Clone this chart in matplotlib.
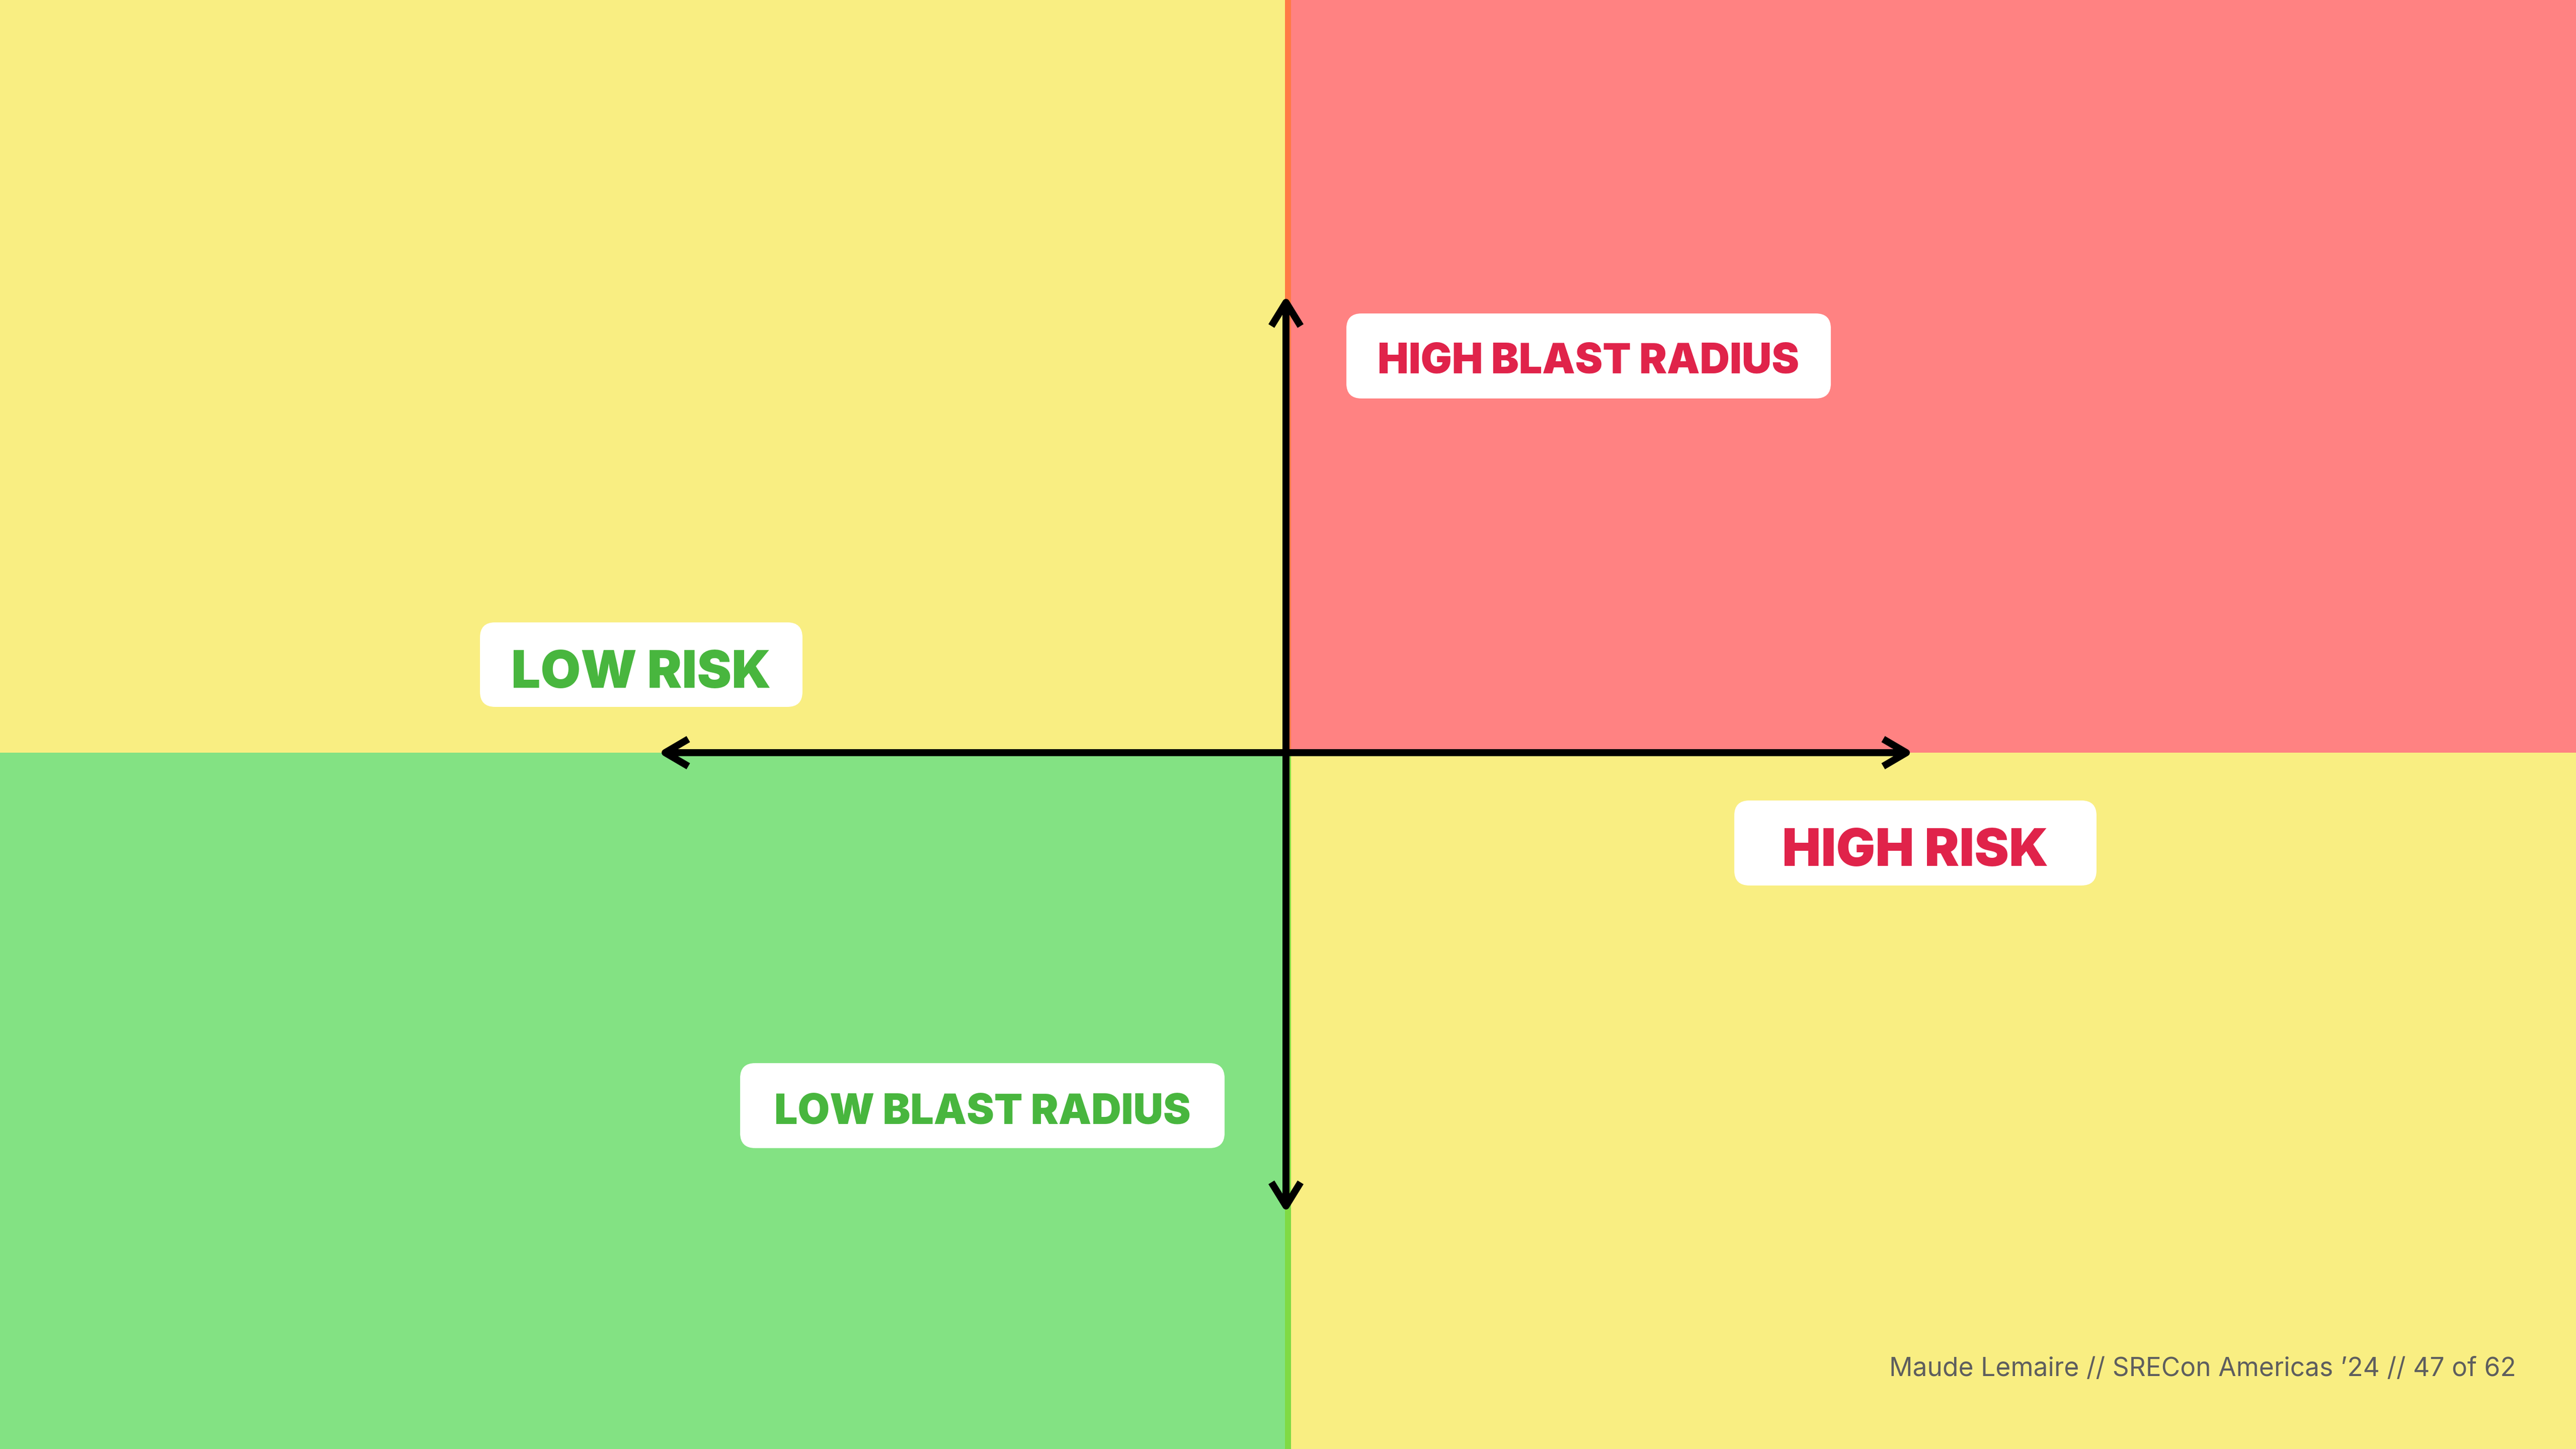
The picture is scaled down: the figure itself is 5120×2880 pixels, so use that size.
import matplotlib
matplotlib.use("Agg")
import matplotlib.pyplot as plt
from matplotlib.patches import Rectangle, FancyBboxPatch

# canvas in pixels
W, H = 5120, 2880
DPI = 320
PX = 72 / DPI  # points per pixel

# quadrant fills: top-left, top-right, bottom-left, bottom-right
quad_names = ["top_left", "top_right", "bottom_left", "bottom_right"]
quad_colors = ["#F9EE82", "#FF8282", "#83E283", "#F9EE82"]

# labels on the chart
label_texts = ["HIGH BLAST RADIUS", "LOW RISK", "HIGH RISK", "LOW BLAST RADIUS"]
label_colors = ["#E0234A", "#48B63E", "#E0234A", "#48B63E"]

footer_text = "Maude Lemaire // SRECon Americas \u201924 // 47 of 62"

# layout (pixels): box x0, x1, y0, y1, text baseline, font size
label_boxes = [
    (2676, 3639, 623, 792, 742, 18.5),
    (954, 1595, 1237, 1405, 1367, 23.2),
    (3447, 4167, 1591, 1760, 1721, 23.2),
    (1471, 2434, 2113, 2282, 2233, 18.5),
]

cx, cy = 2556, 1496   # axis crossing
split_l, split_r = 2554, 2566

fig = plt.figure(figsize=(W / DPI, H / DPI), dpi=DPI)
ax = fig.add_axes([0, 0, 1, 1])
ax.set_xlim(0, W)
ax.set_ylim(H, 0)
ax.axis("off")

# quadrants
quad_rects = {
    "top_left": (0, 0, split_l, cy),
    "top_right": (split_r, 0, W - split_r, cy),
    "bottom_left": (0, cy, split_l, H - cy),
    "bottom_right": (split_r, cy, W - split_r, H - cy),
}
for name, col in zip(quad_names, quad_colors):
    x, y, w, h = quad_rects[name]
    ax.add_patch(Rectangle((x, y), w, h, facecolor=col, edgecolor="none", zorder=1))

# thin divider strip between left/right halves
ax.add_patch(Rectangle((split_l, 0), split_r - split_l, cy, facecolor="#FF7B45",
                       edgecolor="none", zorder=1))
ax.add_patch(Rectangle((split_l, cy), split_r - split_l, H - cy, facecolor="#80DA44",
                       edgecolor="none", zorder=1))

# axes with open arrow heads
lw = 14 * PX
ax.plot([1322, 3789], [cy, cy], color="black", lw=lw, solid_capstyle="butt", zorder=3)
ax.plot([cx, cx], [601, 2397], color="black", lw=lw, solid_capstyle="butt", zorder=3)

heads = [
    ([1368, 1322, 1368], [cy - 27, cy, cy + 27]),
    ([3743, 3789, 3743], [cy - 27, cy, cy + 27]),
    ([cx - 29, cx, cx + 29], [648, 601, 648]),
    ([cx - 29, cx, cx + 29], [2350, 2397, 2350]),
]
for hx, hy in heads:
    ax.plot(hx, hy, color="black", lw=lw, solid_capstyle="butt",
            solid_joinstyle="round", zorder=3)

# label boxes
for txt, col, (x0, x1, y0, y1, base, fs) in zip(label_texts, label_colors, label_boxes):
    ax.add_patch(FancyBboxPatch((x0, y0), x1 - x0, y1 - y0,
                                boxstyle="round,pad=0,rounding_size=30",
                                facecolor="white", edgecolor="none", zorder=4))
    ax.text((x0 + x1) / 2, base, txt, color=col, fontsize=fs, fontweight="black",
            family=["Inter", "DejaVu Sans"], ha="center", va="baseline", zorder=5)

ax.text(5001, 2735, footer_text, color="#5E5E5E", fontsize=11.6,
        family=["Inter", "DejaVu Sans"], ha="right", va="baseline", zorder=5)

fig.savefig("out.png", dpi=DPI)
